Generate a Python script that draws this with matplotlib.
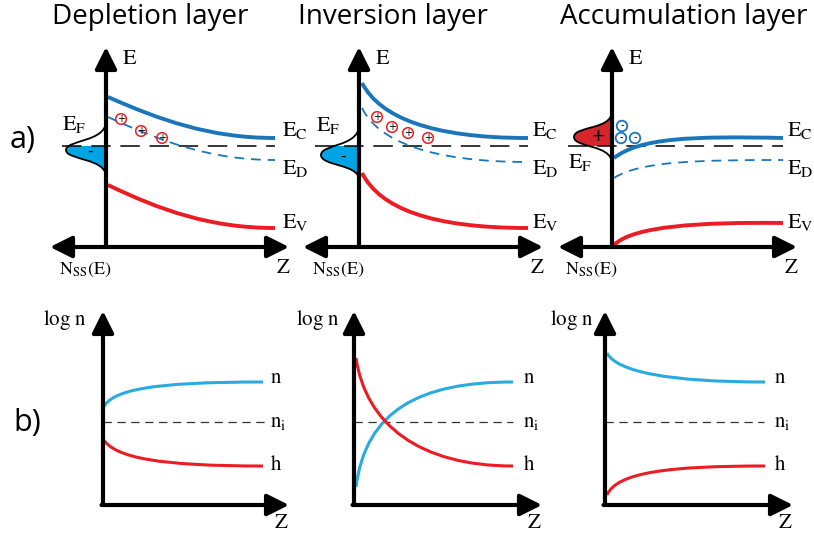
"""
Band bending sketch: depletion, inversion and accumulation layers
drawn in pixel units of an 814x536 canvas
"""

import matplotlib.pyplot as plt
from matplotlib.path import Path
from matplotlib.patches import PathPatch, Circle, Rectangle

plt.rcParams['mathtext.fontset'] = 'stix'
plt.rcParams['lines.scale_dashes'] = False

blue_dark = '#1b75bb'
blue_light = '#29abe2'
blue_fill = '#00a4e4'
red = '#ed1c24'
red_fill = '#d7262b'

# ---- top row (a): axes origin x, arrow ends
top_axis_x = [106, 359, 612]
top_left_tip = [50, 303, 558]
top_right_tip = [289, 543, 797]
top_axis_y = 247
top_arrow_top = 47
fermi_y = 146
fermi_x = [(62, 275), (315, 528), (568, 783)]

titles = ['Depletion layer', 'Inversion layer', 'Accumulation layer']
title_x = [150, 393, 684]

# band edges as cubic bezier control points (start, c1, c2, end)
ec_curves = [[(108, 97), (160, 120), (210, 138), (275, 138)],
             [(362, 83), (380, 117), (430, 138), (528, 138)],
             [(614, 158), (640, 138), (690, 136), (783, 138)]]
ed_curves = [[(108, 117), (160, 141), (210, 160), (275, 160)],
             [(362, 108), (378, 141), (430, 162), (528, 162)],
             [(614, 178), (640, 161), (700, 160), (783, 160)]]
ev_curves = [[(108, 185), (160, 210), (210, 228), (275, 228)],
             [(362, 173), (380, 208), (430, 228), (528, 228)],
             [(614, 245), (633, 226), (700, 222), (783, 223)]]

# surface state density bumps (two bezier segments each)
dos_curves = [[(106, 122), (105, 142), (66, 140), (66, 150), (66, 160), (105, 158), (106, 176)],
              [(359, 126), (358, 147), (321, 144), (321, 155), (321, 166), (358, 164), (359, 179)],
              [(612, 112), (611, 130), (574, 126), (574, 137), (574, 148), (611, 144), (612, 163)]]
dos_fill_below = [True, True, False]
dos_fill_color = [blue_fill, blue_fill, red_fill]
dos_sign = ['-', '-', '+']
dos_sign_xy = [(90, 151), (343, 156), (598, 136)]

# charges near the surface
plus_charges = [[(121, 119), (141, 131), (162, 138)],
                [(377, 117), (392, 127), (408, 133), (428, 138)],
                []]
minus_charges = [[], [], [(622, 126), (621, 138), (635, 138)]]

# labels (x, baseline y)
ef_label_xy = [(62, 130), (316, 131), (568, 168)]
band_label_x = [282, 532, 787]
band_label_y = {'C': 136, 'D': 174, 'V': 228}

# ---- bottom row (b)
bot_axis_x = [103, 354, 605]
bot_right_tip = [289, 542, 793]
bot_axis_y = 505
bot_arrow_top = 311
ni_y = 422
ni_x_end = [265, 513, 764]
n_curves = [[(103, 408), (112, 390), (150, 382), (263, 382)],
            [(356, 487), (366, 410), (420, 382), (513, 382)],
            [(607, 353), (617, 372), (670, 382), (765, 382)]]
h_curves = [[(103, 439), (115, 458), (160, 466), (263, 466)],
            [(356, 358), (366, 425), (420, 466), (513, 466)],
            [(607, 495), (617, 472), (670, 466), (765, 466)]]
bot_label_x = [270, 523, 774]
logn_gap = [16, 14, 11]


def bezier(ax, pts, **kw):
    codes = [Path.MOVETO] + [Path.CURVE4] * (len(pts) - 1)
    patch = PathPatch(Path(pts, codes), fill=False, capstyle='butt', **kw)
    ax.add_patch(patch)
    return patch


def arrow(ax, x1, y1, x2, y2, style='-|>', lw=3.0):
    ax.annotate('', xy=(x2, y2), xytext=(x1, y1),
                arrowprops=dict(arrowstyle=style + ',head_length=1.1,head_width=0.55',
                                lw=lw, color='k', mutation_scale=12,
                                shrinkA=0, shrinkB=0))


fig = plt.figure(figsize=(8.14, 5.36), dpi=100)
ax = fig.add_axes([0, 0, 1, 1])
ax.set_xlim(0, 814)
ax.set_ylim(536, 0)
ax.axis('off')

serif = dict(color='k', fontsize=16)

for i in range(3):
    x0 = top_axis_x[i]
    ax.text(title_x[i], 17, titles[i], ha='center', va='center',
            fontsize=20, family='Open Sans')

    # surface states
    pts = dos_curves[i]
    codes = [Path.MOVETO] + [Path.CURVE4] * 6
    fill_path = Path(pts + [pts[0]], codes + [Path.LINETO])
    fp = PathPatch(fill_path, fc=dos_fill_color[i], ec='none', zorder=1)
    ax.add_patch(fp)
    if dos_fill_below[i]:
        clip = Rectangle((0, fermi_y), 814, 200, transform=ax.transData)
    else:
        clip = Rectangle((0, 0), 814, fermi_y, transform=ax.transData)
    fp.set_clip_path(clip)
    bezier(ax, pts, ec='k', lw=1.3, zorder=2)
    ax.text(*dos_sign_xy[i], dos_sign[i], ha='center', va='center',
            fontsize=13 if dos_sign[i] == '+' else 11, zorder=3)

    # fermi level
    ax.plot(fermi_x[i], [fermi_y, fermi_y], color='k', lw=1.1,
            dashes=(14, 7), zorder=2)

    # bands
    bezier(ax, ec_curves[i], ec=blue_dark, lw=2.8, zorder=3)
    bezier(ax, ed_curves[i], ec=blue_dark, lw=1.3, linestyle=(0, (7, 5)), zorder=3)
    bezier(ax, ev_curves[i], ec=red, lw=2.8, zorder=3)

    for (cx, cy) in plus_charges[i]:
        ax.add_patch(Circle((cx, cy), 5.3, fill=False, ec=red, lw=1.1, zorder=4))
        ax.text(cx, cy, '+', ha='center', va='center', fontsize=7, zorder=4)
    for (cx, cy) in minus_charges[i]:
        ax.add_patch(Circle((cx, cy), 5.3, fill=False, ec=blue_dark, lw=1.3, zorder=4))
        ax.text(cx, cy - 0.5, '-', ha='center', va='center', fontsize=7, zorder=4)

    # axes
    arrow(ax, x0, top_axis_y, x0, top_arrow_top)
    arrow(ax, top_left_tip[i], top_axis_y, top_right_tip[i], top_axis_y, style='<|-|>')
    ax.text(x0 + 16, 64, r'$\mathrm{E}$', **serif)
    ax.text(x0 - 21, 274, r'$\mathrm{N_{SS}(E)}$', ha='center', fontsize=13)
    ax.text(top_right_tip[i] - 6, 273, r'$\mathrm{Z}$', ha='center', fontsize=15)
    ax.text(*ef_label_xy[i], r'$\mathrm{E_F}$', **serif)
    for sub, y in band_label_y.items():
        ax.text(band_label_x[i], y, r'$\mathrm{E_%s}$' % sub, **serif)

ax.text(10, 140, 'a)', fontsize=22, family='Open Sans', va='center')
ax.text(13, 423, 'b)', fontsize=22, family='Open Sans', va='center')

for i in range(3):
    x0 = bot_axis_x[i]
    ax.plot([x0, ni_x_end[i]], [ni_y, ni_y], color='#333333', lw=0.9,
            dashes=(6, 4), zorder=1)
    bezier(ax, n_curves[i], ec=blue_light, lw=2.2, zorder=2)
    bezier(ax, h_curves[i], ec=red, lw=2.2, zorder=2)
    arrow(ax, x0, bot_axis_y, x0, bot_arrow_top)
    arrow(ax, x0 - 1.5, bot_axis_y, bot_right_tip[i], bot_axis_y)
    ax.text(x0 - logn_gap[i], 325, r'$\mathrm{log\ n}$', ha='right', fontsize=15)
    ax.text(bot_right_tip[i] - 8, 528, r'$\mathrm{Z}$', ha='center', fontsize=15)
    lx = bot_label_x[i]
    ax.text(lx, 383, r'$\mathrm{n}$', fontsize=15)
    ax.text(lx, 427, r'$\mathrm{n_i}$', fontsize=15)
    ax.text(lx, 470, r'$\mathrm{h}$', fontsize=15)

plt.savefig('out.png', dpi=100)
